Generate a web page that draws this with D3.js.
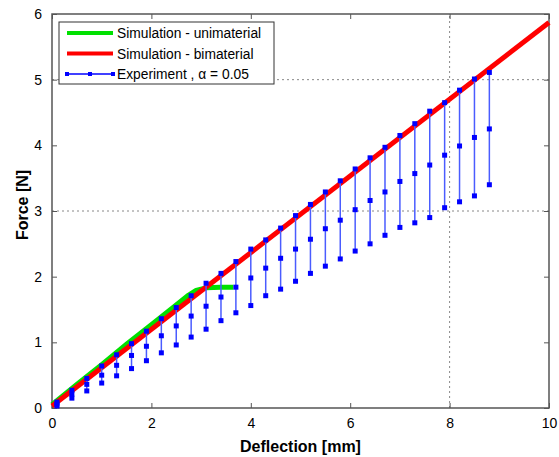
<!DOCTYPE html>
<html>
<head>
<meta charset="utf-8">
<script src="https://cdn.jsdelivr.net/npm/d3@7"></script>
<style>
  body { margin: 0; background: #fff; }
  svg { font-family: "Liberation Sans", Arial, sans-serif; }
</style>
</head>
<body>
<svg id="chart" width="559" height="457"></svg>
<script>
// Data
const deflection = [0.1, 0.4, 0.7, 1.0, 1.3, 1.6, 1.9, 2.2, 2.5, 2.8,
                    3.1, 3.4, 3.7, 4.0, 4.3, 4.6, 4.9, 5.2, 5.5, 5.8,
                    6.1, 6.4, 6.7, 7.0, 7.3, 7.6, 7.9, 8.2, 8.5, 8.8]
const forceUpper = [0.09, 0.27, 0.45, 0.64, 0.81, 0.98, 1.17, 1.36, 1.53, 1.71,
                    1.90, 2.05, 2.23, 2.42, 2.56, 2.74, 2.93, 3.10, 3.29, 3.46,
                    3.64, 3.81, 3.97, 4.15, 4.33, 4.52, 4.65, 4.84, 5.01, 5.11]
const forceMid   = [0.06, 0.21, 0.36, 0.50, 0.65, 0.80, 0.94, 1.10, 1.25, 1.40,
                    1.55, 1.69, 1.84, 1.98, 2.13, 2.28, 2.42, 2.57, 2.73, 2.86,
                    3.02, 3.16, 3.29, 3.45, 3.57, 3.70, 3.85, 3.99, 4.12, 4.25]
const forceLower = [0.03, 0.15, 0.26, 0.38, 0.49, 0.60, 0.72, 0.84, 0.96, 1.08,
                    1.20, 1.33, 1.45, 1.56, 1.71, 1.81, 1.93, 2.05, 2.16, 2.27,
                    2.39, 2.50, 2.63, 2.75, 2.82, 2.90, 3.05, 3.14, 3.23, 3.40]

const uniX = [0, 0.5, 1.0, 1.5, 2.0, 2.5, 2.75, 2.9, 3.1, 3.4, 3.65]
const uniY = [0.05, 0.36, 0.66, 0.97, 1.27, 1.57, 1.72, 1.79, 1.83, 1.84, 1.84]
const biX = [0, 10]
const biY = [0.03, 5.87]

const xTicks = [0, 2, 4, 6, 8, 10]
const yTicks = [0, 1, 2, 3, 4, 5, 6]
const gridX = [8]
const gridY = [3, 5]
const legendLabels = ["Simulation - unimaterial", "Simulation - bimaterial", "Experiment , \u03b1 = 0.05"]

const margin = {left: 52, right: 10, top: 14, bottom: 49}
const svg = d3.select("#chart")
const W = +svg.attr("width"), H = +svg.attr("height")

const x = d3.scaleLinear().domain([0, 10]).range([margin.left, W - margin.right])
const y = d3.scaleLinear().domain([0, 6]).range([H - margin.bottom, margin.top])

const axisCol = "#555"
const fmt = d3.format("d")

// grid (only a few dotted lines)
svg.selectAll(".gx").data(gridX).join("line")
    .attr("x1", d => x(d)).attr("x2", d => x(d))
    .attr("y1", y(0)).attr("y2", y(6))
    .attr("stroke", "#888").attr("stroke-dasharray", "2,3")
svg.selectAll(".gy").data(gridY).join("line")
    .attr("x1", x(0)).attr("x2", x(10))
    .attr("y1", d => y(d)).attr("y2", d => y(d))
    .attr("stroke", "#888").attr("stroke-dasharray", "2,3")

// axes
const tickSize = -5
function styleAxis(g){
    g.select(".domain").remove()
    g.selectAll(".tick line").attr("stroke", axisCol)
    g.selectAll(".tick text").attr("fill", "#000").style("font-size", "14px")
}
svg.append("g").attr("transform", `translate(0,${y(0)})`)
    .call(d3.axisBottom(x).tickValues(xTicks).tickSize(tickSize).tickPadding(10).tickFormat(fmt))
    .call(styleAxis)
svg.append("g").attr("transform", `translate(0,${y(6)})`)
    .call(d3.axisTop(x).tickValues(xTicks).tickSize(tickSize).tickFormat(""))
    .call(styleAxis)
svg.append("g").attr("transform", `translate(${x(0)},0)`)
    .call(d3.axisLeft(y).tickValues(yTicks).tickSize(tickSize).tickPadding(10).tickFormat(fmt))
    .call(styleAxis)
svg.append("g").attr("transform", `translate(${x(10)},0)`)
    .call(d3.axisRight(y).tickValues(yTicks).tickSize(tickSize).tickFormat(""))
    .call(styleAxis)

svg.append("rect")
    .attr("x", x(0)).attr("y", y(6))
    .attr("width", x(10) - x(0)).attr("height", y(0) - y(6))
    .attr("fill", "none").attr("stroke", axisCol).attr("stroke-width", 1.5)

// labels
svg.append("text")
    .attr("x", (x(0) + x(10)) / 2).attr("y", 452)
    .attr("text-anchor", "middle")
    .style("font-size", "16px").style("font-weight", "bold")
    .text("Deflection [mm]")
svg.append("text")
    .attr("transform", `translate(28,${(y(0) + y(6)) / 2 - 6}) rotate(-90)`)
    .attr("text-anchor", "middle")
    .style("font-size", "16px").style("font-weight", "bold")
    .text("Force [N]")

// simulation lines
const line = d3.line().x(d => x(d[0])).y(d => y(d[1]))
svg.append("path")
    .attr("d", line(uniX.map((v, i) => [v, uniY[i]])))
    .attr("fill", "none").attr("stroke", "#00e000").attr("stroke-width", 5)
    .attr("stroke-linejoin", "round")
svg.append("path")
    .attr("d", line(biX.map((v, i) => [v, biY[i]])))
    .attr("fill", "none").attr("stroke", "#ff0000").attr("stroke-width", 5)

// experiment error bars
const exp = deflection.map((d, i) => ({x: d, lo: forceLower[i], mid: forceMid[i], hi: forceUpper[i]}))
const eg = svg.append("g")
eg.selectAll("line").data(exp).join("line")
    .attr("x1", d => x(d.x)).attr("x2", d => x(d.x))
    .attr("y1", d => y(d.lo)).attr("y2", d => y(d.hi))
    .attr("stroke", "#4a5cff").attr("stroke-width", 1.5)
const pts = []
exp.forEach(d => { pts.push([d.x, d.lo], [d.x, d.mid], [d.x, d.hi]) })
eg.selectAll("rect").data(pts).join("rect")
    .attr("x", d => x(d[0]) - 2.5).attr("y", d => y(d[1]) - 2.5)
    .attr("width", 5).attr("height", 5)
    .attr("fill", "#0000ff")

// legend
const lg = svg.append("g")
lg.append("rect").attr("x", 59).attr("y", 22).attr("width", 215).attr("height", 62)
    .attr("fill", "#fff").attr("stroke", "#333").attr("stroke-width", 1)
const legendCols = ["#00e000", "#ff0000", "#0000ff"]
legendLabels.forEach((lab, i) => {
    const ly = 33 + i * 20.5
    lg.append("line").attr("x1", 67).attr("x2", 113).attr("y1", ly).attr("y2", ly)
        .attr("stroke", legendCols[i]).attr("stroke-width", i < 2 ? 4 : 1.5)
    if(i == 2){
        [67, 90, 113].forEach(px => {
            lg.append("rect").attr("x", px - 2).attr("y", ly - 2)
                .attr("width", 4).attr("height", 4).attr("fill", "#0000ff")
        })
    }
    lg.append("text").attr("x", 117).attr("y", ly + 5)
        .style("font-size", "13.8px").text(lab)
})
</script>
</body>
</html>
